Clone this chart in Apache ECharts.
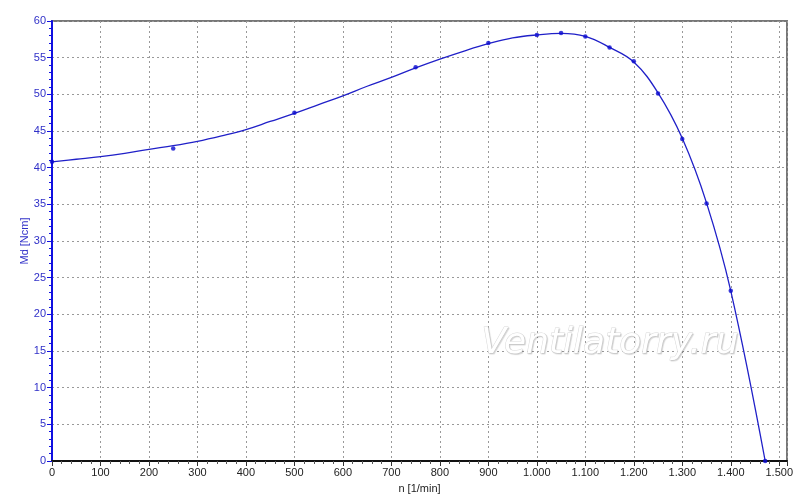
<!DOCTYPE html>
<html>
<head>
<meta charset="utf-8">
<script src="https://cdn.jsdelivr.net/npm/echarts@6/dist/echarts.min.js"></script>
<style>html,body{margin:0;padding:0;background:#fff}#c{width:800px;height:495px}</style>
</head>
<body>
<div id="c"></div>
<script>
// fitted curve
const curveN = [0,50,100,150,200,250,300,350,400,450,500,550,600,650,700,750,800,850,900,950,1000,1050,1100,1150,1200,1250,1300,1350,1400,1471];
const curveMd = [40.8,41.15,41.5,41.95,42.5,43.0,43.6,44.35,45.2,46.3,47.4,48.6,49.8,51.1,52.3,53.6,54.8,55.9,56.9,57.7,58.1,58.3,57.9,56.4,54.4,50.2,44.0,35.2,23.2,0];
// measured points
const pointN = [0,250,500,750,900,1000,1050,1100,1150,1200,1250,1300,1350,1400,1471];
const pointMd = [40.8,42.6,47.5,53.7,57.0,58.1,58.35,57.9,56.4,54.5,50.1,43.9,35.1,23.2,0];
const xLabel = 'n [1/min]';
const yLabel = 'Md [Ncm]';
const watermark = 'Ventilatorry.ru';

const chart = echarts.init(document.getElementById('c'), null, {renderer:'canvas', width:800, height:495});
const font = '"Liberation Sans", Arial, sans-serif';
function fmtThousands(v){
  if (v % 100 !== 0) return '';
  if (v >= 1000) { const s = String(v); return s.slice(0, s.length-3) + '.' + s.slice(-3); }
  return String(v);
}
chart.setOption({
  animation:false,
  backgroundColor:'#fff',
  grid:{left:52, top:21, right:13, bottom:34, containLabel:false, outerBoundsMode:'none',
        show:true, borderColor:'#777', borderWidth:2, backgroundColor:'transparent'},
  graphic:[{
    type:'text', left:481, top:325, z:1, silent:true,
    style:{text:watermark, font:'oblique 36px "DejaVu Sans", sans-serif', fill:'#ffffff',
      stroke:'#d8d8d8', lineWidth:1, textShadowColor:'rgba(0,0,0,0.12)', textShadowOffsetX:1, textShadowOffsetY:1, textShadowBlur:1}
  }],
  xAxis:{
    type:'value', min:0, max:1516, interval:100,
    name:xLabel, nameLocation:'middle', nameGap:22, nameMoveOverlap:false,
    nameTextStyle:{color:'#222', fontSize:11, fontFamily:font},
    axisLine:{onZero:false, lineStyle:{color:'#111', width:2}},
    axisTick:{show:true, inside:false, length:5, lineStyle:{color:'#333', width:1}},
    minorTick:{show:true, splitNumber:5, length:3, lineStyle:{color:'#555', width:1}},
    axisLabel:{color:'#222', fontSize:11, fontFamily:font, margin:6, formatter:fmtThousands, showMaxLabel:false},
    splitLine:{show:true, lineStyle:{color:'#999', type:[2,3], width:1}}
  },
  yAxis:{
    type:'value', min:0, max:60, interval:5,
    name:yLabel, nameLocation:'middle', nameGap:22, nameMoveOverlap:false,
    nameTextStyle:{color:'#3030c8', fontSize:11, fontFamily:font},
    axisLine:{onZero:false, lineStyle:{color:'#1010e0', width:2}},
    axisTick:{show:true, inside:false, length:5, lineStyle:{color:'#1010e0', width:1}},
    minorTick:{show:true, splitNumber:5, length:3, lineStyle:{color:'#1010e0', width:1}},
    axisLabel:{color:'#3030c8', fontSize:11, fontFamily:font, margin:6},
    splitLine:{show:true, lineStyle:{color:'#999', type:[2,3], width:1}}
  },
  series:[
    {type:'line', data:curveN.map((n,i)=>[n,curveMd[i]]), smooth:0.4, showSymbol:false,
     lineStyle:{color:'#2020c8', width:1.3}, z:3},
    {type:'scatter', data:pointN.map((n,i)=>[n,pointMd[i]]), symbol:'circle', symbolSize:4.5,
     itemStyle:{color:'#0a0ad0'}, z:4}
  ]
});
</script>
</body>
</html>
